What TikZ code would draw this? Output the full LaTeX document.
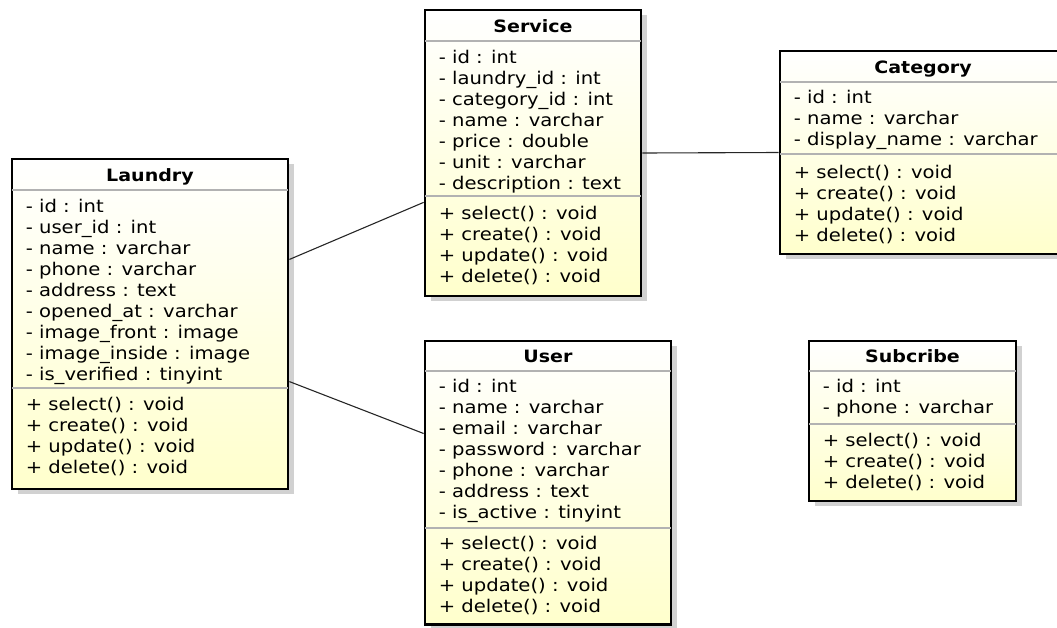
\documentclass[tikz,border=0pt]{standalone}
\usepackage{fontspec}
\setmainfont{DejaVu Sans}[FakeStretch=1.12]
\usetikzlibrary{calc,shadows}

\definecolor{umlyellow}{RGB}{255,255,204}

\begin{document}
\begin{tikzpicture}[x=1pt, y=-1pt,
  classbox/.style={draw, line width=2.8pt, inner sep=0pt, top color=white, bottom color=umlyellow,
    drop shadow={shadow xshift=6pt, shadow yshift=-5pt, fill=black!18, opacity=1}},
  classname/.style={anchor=base, inner sep=0pt, font=\fontsize{17}{21}\selectfont\bfseries},
  members/.style={anchor=north west, inner sep=0pt, align=left, font=\fontsize{17.5}{21}\selectfont},
  divider/.style={line width=2pt, black!30, shorten <=1.4pt, shorten >=1.4pt},
  assoc/.style={line width=1.1pt, black!85}]
  \useasboundingbox (0,0) rectangle (1057,627);

  % class boxes
  \node[classbox, minimum width=276pt, minimum height=330pt] (laundry) at (150,324) {};
  \node[classbox, minimum width=216pt, minimum height=286pt] (service) at (533,153) {};
  \node[classbox, minimum width=286pt, minimum height=203pt] (category) at (923,152.5) {};
  \node[classbox, minimum width=246pt, minimum height=283.5pt] (user) at (548,482.75) {};
  \node[classbox, minimum width=207pt, minimum height=160pt] (subcribe) at (912.5,421) {};

  % compartments
  \draw[divider] ([yshift=-32pt]laundry.north west) -- ([yshift=-32pt]laundry.north east);
  \draw[divider] ([yshift=-230pt]laundry.north west) -- ([yshift=-230pt]laundry.north east);
  \draw[divider] ([yshift=-32pt]service.north west) -- ([yshift=-32pt]service.north east);
  \draw[divider] ([yshift=-187pt]service.north west) -- ([yshift=-187pt]service.north east);
  \draw[divider] ([yshift=-32pt]category.north west) -- ([yshift=-32pt]category.north east);
  \draw[divider] ([yshift=-104pt]category.north west) -- ([yshift=-104pt]category.north east);
  \draw[divider] ([yshift=-31pt]user.north west) -- ([yshift=-31pt]user.north east);
  \draw[divider] ([yshift=-188pt]user.north west) -- ([yshift=-188pt]user.north east);
  \draw[divider] ([yshift=-31pt]subcribe.north west) -- ([yshift=-31pt]subcribe.north east);
  \draw[divider] ([yshift=-84pt]subcribe.north west) -- ([yshift=-84pt]subcribe.north east);

  % Laundry
  \node[classname] (laundry-name) at ([yshift=-24pt]laundry.north) {Laundry};
  \node[members] (laundry-attr) at ([xshift=15pt,yshift=-40.3pt]laundry.north west)
    {\strut- id : int\\- user\_id : int\\- name : varchar\\- phone : varchar\\- address : text\\
     - opened\_at : varchar\\- image\_front : image\\- image\_inside : image\\- is\_verified : tinyint};
  \node[members] (laundry-ops) at ([xshift=15pt,yshift=-238.3pt]laundry.north west)
    {\strut+ select() : void\\+ create() : void\\+ update() : void\\+ delete() : void};

  % Service
  \node[classname] (service-name) at ([yshift=-24pt]service.north) {Service};
  \node[members] (service-attr) at ([xshift=15pt,yshift=-40.3pt]service.north west)
    {\strut- id : int\\- laundry\_id : int\\- category\_id : int\\- name : varchar\\- price : double\\
     - unit : varchar\\- description : text};
  \node[members] (service-ops) at ([xshift=15pt,yshift=-196.3pt]service.north west)
    {\strut+ select() : void\\+ create() : void\\+ update() : void\\+ delete() : void};

  % Category
  \node[classname] (category-name) at ([yshift=-24pt]category.north) {Category};
  \node[members] (category-attr) at ([xshift=15pt,yshift=-39.3pt]category.north west)
    {\strut- id : int\\- name : varchar\\- display\_name : varchar};
  \node[members] (category-ops) at ([xshift=15pt,yshift=-114.3pt]category.north west)
    {\strut+ select() : void\\+ create() : void\\+ update() : void\\+ delete() : void};

  % User
  \node[classname] (user-name) at ([yshift=-23pt]user.north) {User};
  \node[members] (user-attr) at ([xshift=15pt,yshift=-38.3pt]user.north west)
    {\strut- id : int\\- name : varchar\\- email : varchar\\- password : varchar\\- phone : varchar\\
     - address : text\\- is\_active : tinyint};
  \node[members] (user-ops) at ([xshift=15pt,yshift=-195.3pt]user.north west)
    {\strut+ select() : void\\+ create() : void\\+ update() : void\\+ delete() : void};

  % Subcribe
  \node[classname] (subcribe-name) at ([yshift=-23pt]subcribe.north) {Subcribe};
  \node[members] (subcribe-attr) at ([xshift=15pt,yshift=-38.3pt]subcribe.north west)
    {\strut- id : int\\- phone : varchar};
  \node[members] (subcribe-ops) at ([xshift=15pt,yshift=-92.3pt]subcribe.north west)
    {\strut+ select() : void\\+ create() : void\\+ delete() : void};

  % associations
  \draw[assoc] ($(laundry.north east)!0.306!(laundry.south east)$) -- ($(service.north west)!0.671!(service.south west)$);
  \draw[assoc] ($(laundry.north east)!0.673!(laundry.south east)$) -- ($(user.north west)!0.328!(user.south west)$);
  \draw[assoc] (service.east) -- (category.west);
\end{tikzpicture}
\end{document}
